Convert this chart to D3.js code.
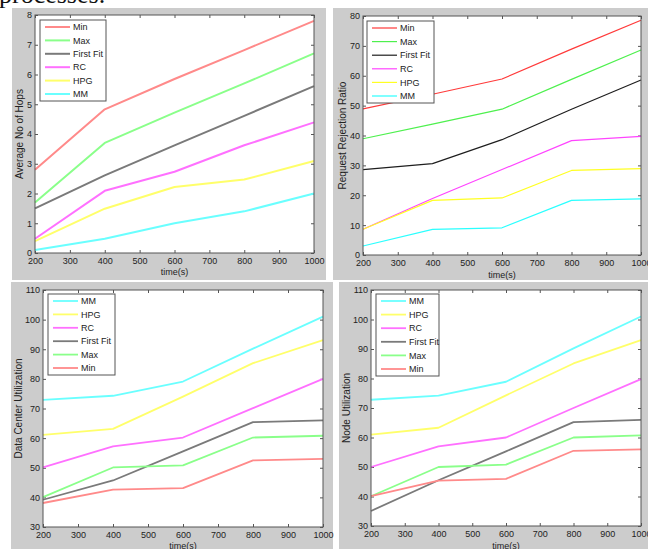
<!DOCTYPE html>
<html>
<head>
<meta charset="utf-8">
<script src="https://cdn.jsdelivr.net/npm/d3@7"></script>
<style>
  body { margin: 0; background: #fff; }
  svg { display: block; }
  .tick text { font-family: "Liberation Sans", Arial, sans-serif; font-size: 9px; fill: #222; }
</style>
</head>
<body>
<svg id="chart"></svg>
<script>
// Shared x values (time in seconds)
const times = [200, 400, 600, 800, 1000];
const xTicks = [200, 300, 400, 500, 600, 700, 800, 900, 1000];

// Average No of Hops
const hopsMin = [2.8, 4.83, 5.85, 6.82, 7.8];
const hopsMax = [1.7, 3.7, 4.72, 5.7, 6.71];
const hopsFirstFit = [1.5, 2.61, 3.62, 4.61, 5.61];
const hopsRC = [0.48, 2.09, 2.73, 3.62, 4.39];
const hopsHPG = [0.4, 1.49, 2.22, 2.47, 3.09];
const hopsMM = [0.1, 0.48, 1.0, 1.4, 2.0];

// Request Rejection Ratio
const rejMin = [48.9, 53.8, 58.9, 68.9, 78.6];
const rejMax = [38.9, 43.8, 48.8, 58.8, 68.6];
const rejFirstFit = [28.6, 30.6, 38.6, 48.8, 58.6];
const rejRC = [8.6, 18.9, 28.6, 38.3, 39.7];
const rejHPG = [8.6, 18.3, 19.1, 28.3, 28.9];
const rejMM = [3.0, 8.6, 9.1, 18.3, 18.8];

// Data Center Utilization
const dcMM = [72.9, 74.3, 79.1, 90.2, 101];
const dcHPG = [61.1, 63.1, 74, 85.3, 93.1];
const dcRC = [50.1, 57.2, 60.2, 70.1, 80];
const dcFirstFit = [39.2, 45.7, 55.5, 65.4, 66];
const dcMax = [40.1, 50.1, 50.8, 60.2, 60.8];
const dcMin = [38.1, 42.6, 43.1, 52.5, 53];

// Node Utilization
const nodeMM = [72.8, 74.2, 78.9, 90.2, 101];
const nodeHPG = [61, 63.3, 74.3, 85.1, 93];
const nodeRC = [50, 57, 60, 70, 79.8];
const nodeFirstFit = [35.1, 45.5, 55.3, 65.2, 66];
const nodeMax = [40.1, 50, 50.8, 60, 60.7];
const nodeMin = [40.1, 45.4, 46, 55.5, 56];

const svg = d3.select("#chart").attr("width", 648).attr("height", 549);

// Cut-off text from the page above the figure
svg.append("text")
  .attr("x", -1)
  .attr("y", 3)
  .style("font-family", "'Liberation Serif', 'Times New Roman', serif")
  .style("font-size", "26px")
  .attr("fill", "#111")
  .text("processes.");

// Colour sets: soft (thick lines) and bright (thin lines)
const soft = { Min: "#ff8a8a", Max: "#8aff8a", "First Fit": "#7a7a7a", RC: "#ff70ff", HPG: "#ffff6a", MM: "#6affff" };
const bright = { Min: "#ff3a3a", Max: "#4ef04e", "First Fit": "#1e1e1e", RC: "#ff44ff", HPG: "#ffff22", MM: "#2affff" };

const panels = [
  {
    frame: [12, 8, 326, 280], plot: [35, 15, 314, 253],
    yDomain: [0, 8], yTicks: d3.range(0, 9, 1),
    yLabel: "Average No of Hops", yLabelX: 19, xLabelY: 275,
    legend: [40, 20, 106, 101], colors: soft, width: 2,
    series: [["Min", hopsMin], ["Max", hopsMax], ["First Fit", hopsFirstFit], ["RC", hopsRC], ["HPG", hopsHPG], ["MM", hopsMM]]
  },
  {
    frame: [333, 8, 648, 280], plot: [363, 16, 641, 255],
    yDomain: [0, 80], yTicks: d3.range(0, 81, 10),
    yLabel: "Request Rejection Ratio", yLabelX: 342, xLabelY: 278,
    legend: [367, 21, 434, 103], colors: bright, width: 1.2,
    series: [["Min", rejMin], ["Max", rejMax], ["First Fit", rejFirstFit], ["RC", rejRC], ["HPG", rejHPG], ["MM", rejMM]]
  },
  {
    frame: [11, 282, 333, 549], plot: [43, 290, 323, 527],
    yDomain: [30, 110], yTicks: d3.range(30, 111, 10),
    yLabel: "Data Center Utilization", yLabelX: 18, xLabelY: 549,
    legend: [48, 294, 115, 375], colors: soft, width: 1.8,
    series: [["MM", dcMM], ["HPG", dcHPG], ["RC", dcRC], ["First Fit", dcFirstFit], ["Max", dcMax], ["Min", dcMin]]
  },
  {
    frame: [339, 282, 648, 549], plot: [371, 290, 641, 526],
    yDomain: [30, 110], yTicks: d3.range(30, 111, 10),
    yLabel: "Node Utilization", yLabelX: 346, xLabelY: 549,
    legend: [376, 294, 439, 376], colors: soft, width: 1.8,
    series: [["MM", nodeMM], ["HPG", nodeHPG], ["RC", nodeRC], ["First Fit", nodeFirstFit], ["Max", nodeMax], ["Min", nodeMin]]
  }
];

panels.forEach(drawPanel);

function drawPanel(p) {
  const [fx0, fy0, fx1, fy1] = p.frame;
  const [px0, py0, px1, py1] = p.plot;

  // Gray figure background
  svg.append("rect")
    .attr("x", fx0).attr("y", fy0)
    .attr("width", fx1 - fx0).attr("height", fy1 - fy0)
    .attr("fill", "#cccccc");

  const x = d3.scaleLinear().domain([200, 1000]).range([px0, px1]);
  const y = d3.scaleLinear().domain(p.yDomain).range([py1, py0]);

  // White plot area
  svg.append("rect")
    .attr("x", px0).attr("y", py0)
    .attr("width", px1 - px0).attr("height", py1 - py0)
    .attr("fill", "#fff");

  // Axes with inward ticks on all four sides
  const bottom = svg.append("g")
    .attr("transform", `translate(0, ${py1})`)
    .call(d3.axisBottom(x).tickValues(xTicks).tickSizeInner(-3).tickSizeOuter(0).tickPadding(5).tickFormat(d3.format("d")));
  const top = svg.append("g")
    .attr("transform", `translate(0, ${py0})`)
    .call(d3.axisTop(x).tickValues(xTicks).tickSizeInner(-3).tickSizeOuter(0).tickFormat(""));
  const left = svg.append("g")
    .attr("transform", `translate(${px0}, 0)`)
    .call(d3.axisLeft(y).tickValues(p.yTicks).tickSizeInner(-3).tickSizeOuter(0).tickPadding(3).tickFormat(d3.format("d")));
  const right = svg.append("g")
    .attr("transform", `translate(${px1}, 0)`)
    .call(d3.axisRight(y).tickValues(p.yTicks).tickSizeInner(-3).tickSizeOuter(0).tickFormat(""));

  [bottom, top, left, right].forEach(g => {
    g.select(".domain").remove();
    g.selectAll(".tick line").attr("stroke", "#555");
  });

  // Lines
  const line = d3.line()
    .x((d, i) => x(times[i]))
    .y(d => y(d));

  p.series.forEach(([name, values]) => {
    svg.append("path")
      .datum(values)
      .attr("d", line)
      .attr("fill", "none")
      .attr("stroke", p.colors[name])
      .attr("stroke-width", p.width)
      .attr("stroke-linejoin", "round");
  });

  // Axes box
  svg.append("rect")
    .attr("x", px0).attr("y", py0)
    .attr("width", px1 - px0).attr("height", py1 - py0)
    .attr("fill", "none")
    .attr("stroke", "#555")
    .attr("stroke-width", 1);

  // Axis labels
  svg.append("text")
    .attr("x", (px0 + px1) / 2)
    .attr("y", p.xLabelY)
    .attr("text-anchor", "middle")
    .attr("font-family", "Liberation Sans, Arial, sans-serif")
    .attr("font-size", 9)
    .attr("fill", "#222")
    .text("time(s)");

  svg.append("text")
    .attr("transform", `translate(${p.yLabelX}, ${(py0 + py1) / 2}) rotate(-90)`)
    .attr("text-anchor", "middle")
    .attr("dy", "0.35em")
    .attr("font-family", "Liberation Sans, Arial, sans-serif")
    .attr("font-size", 10)
    .attr("fill", "#222")
    .text(p.yLabel);

  // Legend
  const [lx0, ly0, lx1, ly1] = p.legend;
  const legend = svg.append("g");
  legend.append("rect")
    .attr("x", lx0).attr("y", ly0)
    .attr("width", lx1 - lx0).attr("height", ly1 - ly0)
    .attr("fill", "#fff")
    .attr("stroke", "#555");

  const rowY = d3.scalePoint()
    .domain(p.series.map(s => s[0]))
    .range([ly0 + 7, ly1 - 7]);

  p.series.forEach(([name]) => {
    legend.append("line")
      .attr("x1", lx0 + 5).attr("x2", lx0 + 30)
      .attr("y1", rowY(name)).attr("y2", rowY(name))
      .attr("stroke", p.colors[name])
      .attr("stroke-width", p.width);
    legend.append("text")
      .attr("x", lx0 + 33)
      .attr("y", rowY(name))
      .attr("dy", "0.35em")
      .attr("font-family", "Liberation Sans, Arial, sans-serif")
      .attr("font-size", 9)
      .attr("fill", "#222")
      .text(name);
  });
}
</script>
</body>
</html>
